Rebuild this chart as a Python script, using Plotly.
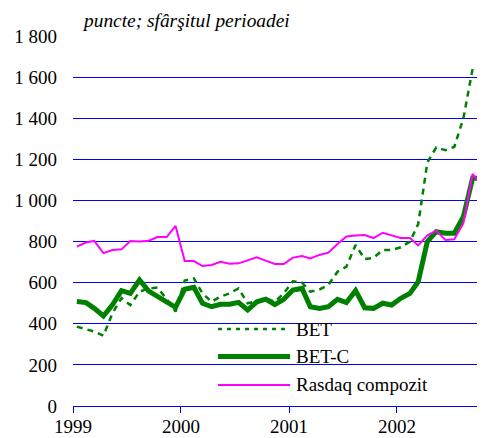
import plotly.graph_objects as go
import pandas as pd

# monthly end-of-period values, Jan 1999 - Oct 2002
months = pd.date_range("1999-01-01", periods=46, freq="MS") + pd.Timedelta(days=13)

bet = [386, 375, 362, 342, 450, 525, 491, 556, 572, 576, 520, 459,
       610, 621, 548, 507, 532, 548, 572, 500, 510, 524, 507, 548,
       607, 600, 556, 567, 589, 653, 678, 783, 715, 721, 759, 759,
       772, 800, 885, 1185, 1258, 1245, 1260, 1400, 1640, 1650]

bet_c = [508, 503, 475, 438, 491, 561, 548, 613, 559, 535, 507, 480,
         568, 577, 500, 483, 495, 495, 504, 467, 507, 520, 493, 519,
         564, 572, 483, 475, 483, 519, 503, 561, 478, 475, 500, 491,
         524, 548, 605, 800, 848, 840, 840, 921, 1108, 1108]

rasdaq = [775, 795, 803, 744, 759, 762, 803, 800, 804, 822, 822, 876,
          705, 705, 681, 686, 702, 692, 694, 707, 723, 707, 691, 691,
          722, 730, 718, 735, 746, 788, 825, 830, 832, 817, 843, 830,
          817, 817, 781, 830, 853, 808, 811, 889, 1129, 1075]

series_names = ["BET", "BET-C", "Rasdaq compozit"]
year_ticks = ["1999-01-01", "2000-01-01", "2001-01-01", "2002-01-01"]
year_labels = ["1999", "2000", "2001", "2002"]
y_ticks = [0, 200, 400, 600, 800, 1000, 1200, 1400, 1600, 1800]

styles = [dict(color="#008000", width=2.5, dash="6px,5px"),
          dict(color="#008000", width=5),
          dict(color="#ff00ff", width=2)]

fig = go.Figure()
for name, vals, st in zip(series_names, [bet, bet_c, rasdaq], styles):
    fig.add_trace(go.Scatter(x=months, y=vals, name=name, mode="lines", line=st))

font = "Liberation Serif"

# hand-made legend: white box over the grid, a sample line and a label per series
shapes = [dict(type="rect", xref="paper", yref="paper", x0=0.303, x1=0.903,
               y0=0.012, y1=0.245, fillcolor="white", line_width=0, layer="between")]
annotations = []
rows = [0.208, 0.134, 0.057]
for name, st, yy in zip(series_names, styles, rows):
    sample = dict(st)
    if "dash" in sample:
        sample["dash"] = "4px,5px"
    shapes.append(dict(type="line", xref="paper", yref="paper", x0=0.352, x1=0.527,
                       y0=yy, y1=yy, line=sample, layer="above"))
    annotations.append(dict(text=name, xref="paper", yref="paper", x=0.537, y=yy,
                            xanchor="left", yanchor="middle", showarrow=False,
                            font=dict(size=19)))

annotations.append(dict(text="<i>puncte; sfârşitul perioadei</i>",
                        xref="paper", yref="paper", x=0.016, y=1.0,
                        xanchor="left", yanchor="bottom", yshift=3,
                        showarrow=False, font=dict(size=19.4)))

# the page body adds an 8px offset, so the figure is sized to fit what remains
fig.update_layout(
    width=477, height=430,
    margin=dict(l=65, r=0, t=28, b=32, autoexpand=False),
    paper_bgcolor="white", plot_bgcolor="white",
    separators=", ",
    font=dict(family=font, size=19, color="black"),
    showlegend=False,
    xaxis=dict(range=["1999-01-01", "2002-10-26"], tickvals=year_ticks,
               ticktext=year_labels, ticks="outside", ticklen=6,
               tickcolor="blue", showline=True, linecolor="blue",
               showgrid=False, zeroline=False, ticklabelstandoff=-3),
    yaxis=dict(range=[0, 1800], tickvals=y_ticks, separatethousands=True,
               tickformat=",d", showgrid=True, gridcolor="blue",
               gridwidth=1, zeroline=False, showline=False, ticks="",
               ticklabelstandoff=15),
    shapes=shapes,
    annotations=annotations,
)

fig.write_html("out.html")
